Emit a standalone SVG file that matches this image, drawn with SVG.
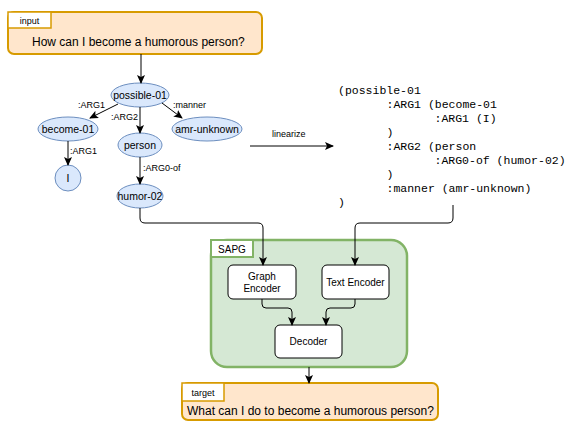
<svg xmlns="http://www.w3.org/2000/svg" width="566" height="422" viewBox="0 0 566 422">
<style>
text{font-family:"Liberation Sans",Arial,sans-serif;fill:#000}
.io{fill:#ffe6cc;stroke:#d79b00;stroke-width:2}
.lab{fill:#fff;stroke:#d79b00;stroke-width:1.5}
.nd{fill:#dae8fc;stroke:#6c8ebf;stroke-width:1}
.nt{font-size:10.5px;text-anchor:middle}
.el{font-size:9px}
.code{font-family:"Liberation Mono","Courier New",monospace;font-size:11.5px}
.box{fill:#fff;stroke:#000;stroke-width:1}
.c{fill:none;stroke:#000;stroke-width:1}
</style>
<defs>
<marker id="ah" markerWidth="10" markerHeight="8" refX="8" refY="4" orient="auto" markerUnits="userSpaceOnUse">
<path d="M0,0 L9,4 L0,8 L2,4 z" fill="#000"/>
</marker>
</defs>
<rect width="566" height="422" fill="#fff"/>

<g id="input">
<rect class="io" x="8" y="12" width="254" height="42" rx="6"/>
<rect class="lab" x="8" y="12" width="43" height="16"/>
<text x="29.5" y="24" font-size="9" text-anchor="middle">input</text>
<text x="32" y="46" font-size="12">How can I become a humorous person?</text>
</g>

<g id="possible-01">
<ellipse class="nd" cx="140" cy="95" rx="29" ry="12"/>
<text class="nt" x="140" y="99">possible-01</text>
</g>
<g id="become-01">
<ellipse class="nd" cx="68" cy="129" rx="30" ry="12"/>
<text class="nt" x="68" y="133">become-01</text>
</g>
<g id="amr-unknown">
<ellipse class="nd" cx="207" cy="129" rx="35" ry="12"/>
<text class="nt" x="207" y="133">amr-unknown</text>
</g>
<g id="person">
<ellipse class="nd" cx="140" cy="145" rx="22" ry="12"/>
<text class="nt" x="140" y="149">person</text>
</g>
<g id="I">
<ellipse class="nd" cx="68" cy="178" rx="13" ry="13"/>
<text class="nt" x="68" y="182">I</text>
</g>
<g id="humor-02">
<ellipse class="nd" cx="140" cy="196" rx="23" ry="12"/>
<text class="nt" x="140" y="200">humor-02</text>
</g>

<g id="linearized">
<text class="code" x="338" y="94">(possible-01</text>
<text class="code" x="386.5" y="108">:ARG1 (become-01</text>
<text class="code" x="434.5" y="122">:ARG1 (I)</text>
<text class="code" x="386.5" y="136">)</text>
<text class="code" x="386.5" y="150">:ARG2 (person</text>
<text class="code" x="434.5" y="164">:ARG0-of (humor-02)</text>
<text class="code" x="386.5" y="178">)</text>
<text class="code" x="386.5" y="192">:manner (amr-unknown)</text>
<text class="code" x="338" y="206">)</text>
</g>

<g id="SAPG">
<rect x="211" y="240" width="196" height="127" rx="16" fill="#d5e8d4" stroke="#82b366" stroke-width="2.5"/>
<rect x="211" y="240" width="42" height="17" fill="#fff" stroke="#82b366" stroke-width="2"/>
<text x="232" y="252.5" font-size="10" text-anchor="middle">SAPG</text>
</g>
<g id="graph-encoder">
<rect class="box" x="228" y="265" width="68" height="34" rx="5"/>
<text x="262" y="280" font-size="10" text-anchor="middle">Graph</text>
<text x="262" y="292" font-size="10" text-anchor="middle">Encoder</text>
</g>
<g id="text-encoder">
<rect class="box" x="322" y="265" width="67" height="34" rx="5"/>
<text x="355.5" y="285.5" font-size="10" text-anchor="middle">Text Encoder</text>
</g>
<g id="decoder">
<rect class="box" x="275" y="325" width="67" height="33" rx="5"/>
<text x="308.5" y="345" font-size="10" text-anchor="middle">Decoder</text>
</g>

<g id="target">
<rect class="io" x="182" y="383" width="256" height="37" rx="6"/>
<rect class="lab" x="182" y="383" width="42" height="18"/>
<text x="203" y="396" font-size="9" text-anchor="middle">target</text>
<text x="187" y="415" font-size="12">What can I do to become a humorous person?</text>
</g>

<g id="connectors">
<line class="c" x1="141" y1="54" x2="141" y2="83" marker-end="url(#ah)"/>
<line class="c" x1="118" y1="104" x2="90" y2="118" marker-end="url(#ah)"/>
<line class="c" x1="140" y1="107" x2="140" y2="133" marker-end="url(#ah)"/>
<line class="c" x1="162" y1="103" x2="182" y2="118" marker-end="url(#ah)"/>
<line class="c" x1="68" y1="141" x2="68" y2="165" marker-end="url(#ah)"/>
<line class="c" x1="140" y1="157" x2="140" y2="184" marker-end="url(#ah)"/>
<line class="c" x1="250" y1="146" x2="333" y2="146" marker-end="url(#ah)"/>
<path class="c" d="M140,208 V218 Q140,223 145,223 H258 Q263,223 263,228 V265" marker-end="url(#ah)"/>
<path class="c" d="M453,205 V218 Q453,223 448,223 H360 Q355,223 355,228 V265" marker-end="url(#ah)"/>
<path class="c" d="M262,299 V304 Q262,308 266,308 H288 Q292,308 292,312 V325" marker-end="url(#ah)"/>
<path class="c" d="M355,299 V304 Q355,308 351,308 H330 Q326,308 326,312 V325" marker-end="url(#ah)"/>
<line class="c" x1="309" y1="367" x2="309" y2="383" marker-end="url(#ah)"/>
<text class="el" x="78" y="108">:ARG1</text>
<text class="el" x="111" y="120">:ARG2</text>
<text class="el" x="173" y="108">:manner</text>
<text class="el" x="70" y="154">:ARG1</text>
<text class="el" x="143" y="171">:ARG0-of</text>
<text class="el" x="272" y="137">linearize</text>
</g>
</svg>
